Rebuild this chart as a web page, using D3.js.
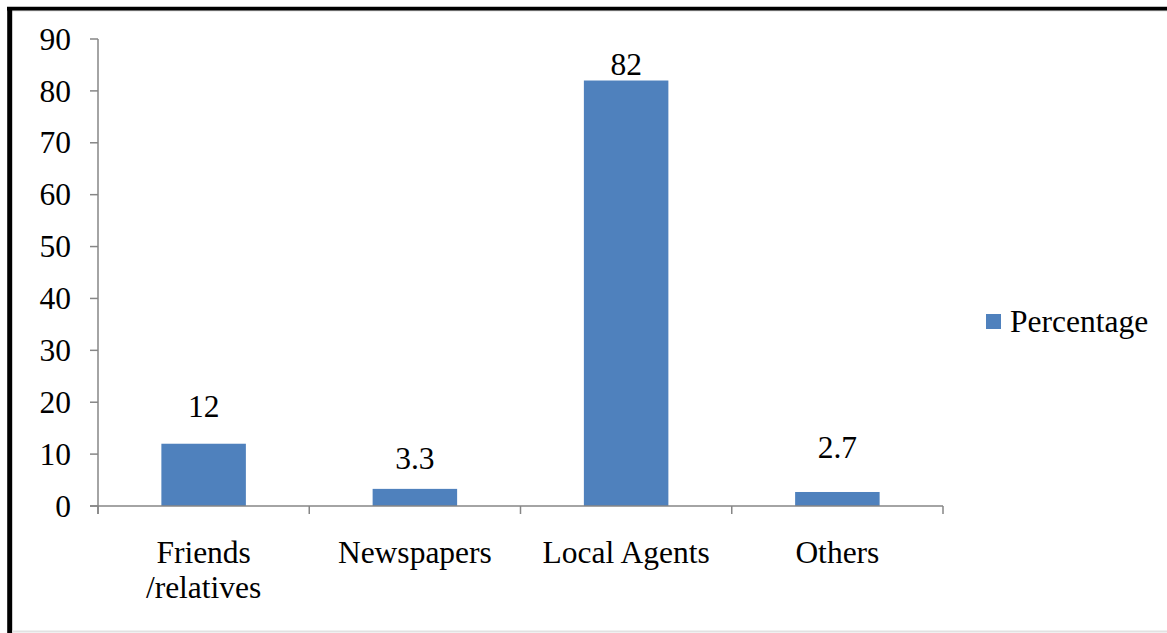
<!DOCTYPE html>
<html>
<head>
<meta charset="utf-8">
<script src="https://cdn.jsdelivr.net/npm/d3@7/dist/d3.min.js"></script>
<style>
  html, body { margin: 0; padding: 0; background: #fff; }
  svg { display: block; }
</style>
</head>
<body>
<svg id="chart" width="1167" height="633"></svg>
<script>
// ---- data ----
const categories = [["Friends", "/relatives"], ["Newspapers"], ["Local Agents"], ["Others"]];
const values = [12, 3.3, 82, 2.7];
const valueLabels = ["12", "3.3", "82", "2.7"];
const yTicks = [0, 10, 20, 30, 40, 50, 60, 70, 80, 90];
const seriesName = "Percentage";

// ---- layout / style ----
const labelLift = [27, 20, 6, 34]; // px gap between bar top and label baseline
const barColor = "#4F81BD";
const axisColor = "#868686";
const fontSize = 31.5;
const fontFamily = "'Liberation Serif', serif";

const svg = d3.select("#chart");

// frame
svg.append("rect").attr("x", 0).attr("y", 0).attr("width", 1167).attr("height", 633).attr("fill", "#fff");
svg.append("line").attr("x1", 7).attr("x2", 1167).attr("y1", 10.8).attr("y2", 10.8)
  .attr("stroke", "#c8c8c8").attr("stroke-width", 1);
svg.append("line").attr("x1", 7).attr("x2", 1167).attr("y1", 8.6).attr("y2", 8.6)
  .attr("stroke", "#000").attr("stroke-width", 3.6);
svg.append("line").attr("x1", 9.7).attr("x2", 9.7).attr("y1", 7).attr("y2", 633)
  .attr("stroke", "#000").attr("stroke-width", 5);
svg.append("line").attr("x1", 12).attr("x2", 1167).attr("y1", 631.5).attr("y2", 631.5)
  .attr("stroke", "#e2e2e2").attr("stroke-width", 2);

const x = d3.scaleBand()
  .domain(d3.range(categories.length))
  .range([98, 943])
  .paddingInner(0.6)
  .paddingOuter(0.3);

const y = d3.scaleLinear().domain([0, 90]).range([506, 39]);

// bars
svg.append("g").selectAll("rect").data(values).join("rect")
  .attr("x", (d, i) => x(i))
  .attr("y", d => y(d))
  .attr("width", x.bandwidth())
  .attr("height", d => y(0) - y(d))
  .attr("fill", barColor);

// y axis
const yAxis = svg.append("g");
yAxis.append("line").attr("x1", 98).attr("x2", 98).attr("y1", y(90)).attr("y2", y(0) + 8)
  .attr("stroke", axisColor).attr("stroke-width", 1.5);
yAxis.selectAll("line.tick").data(yTicks).join("line").attr("class", "tick")
  .attr("x1", 90).attr("x2", 98).attr("y1", d => y(d)).attr("y2", d => y(d))
  .attr("stroke", axisColor).attr("stroke-width", 1.5);
yAxis.selectAll("text").data(yTicks).join("text")
  .attr("x", 71).attr("y", d => y(d)).attr("dy", "0.34em")
  .attr("text-anchor", "end").attr("font-size", fontSize).attr("font-family", fontFamily)
  .text(d => d);

// x axis
const xAxis = svg.append("g");
const step = x.step();
xAxis.append("line").attr("x1", 90).attr("x2", 943).attr("y1", y(0)).attr("y2", y(0))
  .attr("stroke", axisColor).attr("stroke-width", 1.5);
xAxis.selectAll("line.tick").data(d3.range(categories.length + 1)).join("line").attr("class", "tick")
  .attr("x1", i => x.range()[0] + i * step).attr("x2", i => x.range()[0] + i * step)
  .attr("y1", y(0)).attr("y2", y(0) + 8)
  .attr("stroke", axisColor).attr("stroke-width", 1.5);

// category labels
const catG = xAxis.selectAll("text").data(categories).join("text")
  .attr("text-anchor", "middle").attr("font-size", fontSize).attr("font-family", fontFamily)
  .attr("x", (d, i) => x(i) + x.bandwidth() / 2)
  .attr("y", 563);
catG.selectAll("tspan").data(d => d).join("tspan")
  .attr("x", function () { return this.parentNode.getAttribute("x"); })
  .attr("dy", (d, j) => j === 0 ? 0 : 35)
  .text(d => d);

// value labels
svg.append("g").selectAll("text").data(values).join("text")
  .attr("text-anchor", "middle").attr("font-size", fontSize).attr("font-family", fontFamily)
  .attr("x", (d, i) => x(i) + x.bandwidth() / 2)
  .attr("y", (d, i) => y(d) - labelLift[i])
  .text((d, i) => valueLabels[i]);

// legend
const lg = svg.append("g");
lg.append("rect").attr("x", 986).attr("y", 314).attr("width", 15).attr("height", 15).attr("fill", barColor);
lg.append("text").attr("x", 1010).attr("y", 332).attr("font-size", fontSize).attr("font-family", fontFamily).text(seriesName);
</script>
</body>
</html>
